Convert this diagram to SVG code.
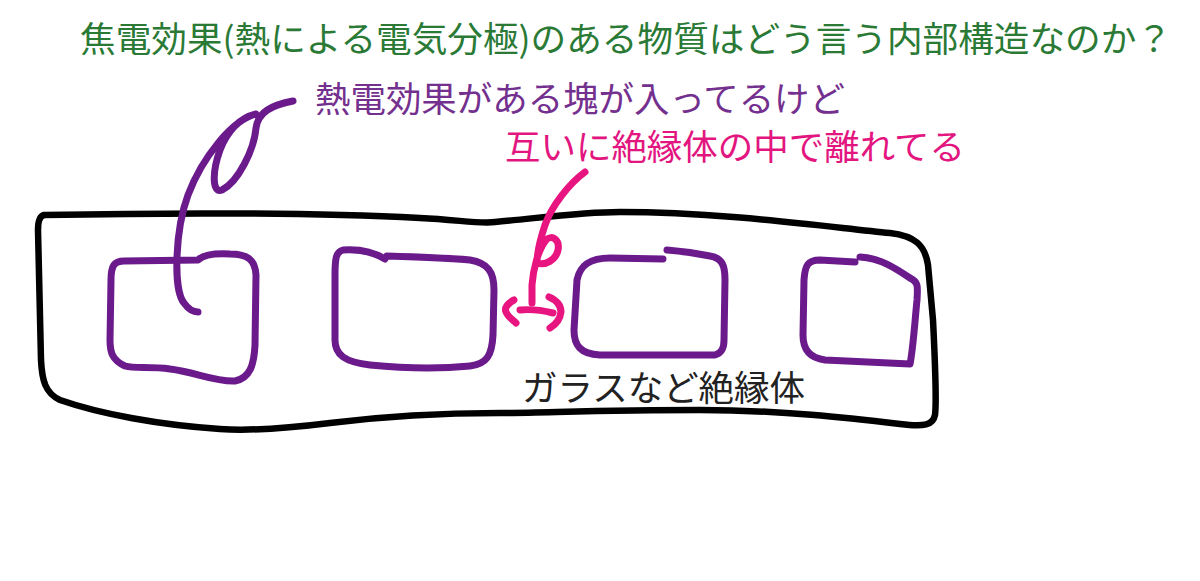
<svg xmlns="http://www.w3.org/2000/svg" width="1200" height="581" viewBox="0 0 1200 581">
<style>
text{font-family:"Noto Sans CJK JP","Noto Sans",sans-serif;font-size:35px}
.title{fill:#2a7a36}
.purpleText{fill:#74308e}
.pinkText{fill:#e3167f}
.blackText{fill:#222}
.outer{fill:none;stroke:#000;stroke-width:6.5;stroke-linecap:round;stroke-linejoin:round}
.blob{fill:none;stroke:#6b1a8c;stroke-width:7;stroke-linecap:round;stroke-linejoin:round}
.pink{fill:none;stroke:#e8147f;stroke-width:7;stroke-linecap:round;stroke-linejoin:round}
</style>
<rect width="1200" height="581" fill="#fff"/>
<g id="title"><text class="title" x="80" y="52" font-size="36" textLength="1092" lengthAdjust="spacingAndGlyphs">焦電効果(熱による電気分極)のある物質はどう言う内部構造なのか？</text></g>
<g id="insulator">
<path class="outer" d="M44,215 C150,213 300,212 420,218 C460,220 480,224 495,222 C540,218 580,212 620,212 C720,212 820,226 890,233 C915,236 925,245 928,265 L933,320 C935,360 937,400 935,415 C933,425 925,427 900,424 C850,418 780,410 700,410 C600,410 540,413 500,413 C430,413 370,418 330,423 C290,428 250,431 220,429 C160,425 100,414 60,400 C45,393 42,380 41,360 L38,230 C38,220 40,216 44,215 Z"/>
<text class="blackText" x="522" y="401" textLength="283" lengthAdjust="spacingAndGlyphs">ガラスなど絶縁体</text>
</g>
<g id="block1"><path class="blob" d="M124,261 L198,260 C202,256 212,253 230,254 C248,254 255,260 256,275 L255,345 C254,365 250,378 235,381 C215,382 195,372 170,369 C150,366 135,369 125,366 C112,360 110,352 110,340 L111,280 C111,266 114,261 124,261 Z"/></g>
<g id="block2"><path class="blob" d="M385,259 C372,251 358,249 343,250 C336,252 335,258 335,275 L335,340 C335,355 345,362 370,365 C400,368 440,369 470,366 C487,364 492,355 493,335 L494,290 C494,272 488,263 470,260 C450,258 420,257 387,256"/></g>
<g id="block3"><path class="blob" d="M663,259 L610,258 C590,258 580,265 577,280 L574,330 C574,345 580,354 600,355 L715,355 C722,353 724,348 724,340 L725,280 C725,265 722,258 710,256 C695,253 680,251 667,250"/></g>
<g id="block4"><path class="blob" d="M855,262 L820,260 C808,260 805,265 804,280 L803,335 C803,350 810,358 825,360 L910,364 C913,350 915,320 917,300 C918,285 918,282 910,278 C895,268 880,258 860,257"/></g>
<g id="label-blocks"><text class="purpleText" x="315" y="112" textLength="530" lengthAdjust="spacingAndGlyphs">熱電効果がある塊が入ってるけど</text></g>
<g id="label-separated"><text class="pinkText" x="505" y="160" textLength="460" lengthAdjust="spacingAndGlyphs">互いに絶縁体の中で離れてる</text></g>
<g id="connectors">
<path class="blob" d="M293,101 C272,105 258,112 256,128 C254,150 238,182 222,190 C212,194 212,172 220,150 C228,130 240,118 256,114 C232,120 202,158 188,195 C175,230 173,290 184,303 C189,310 194,312 198,312"/>
<path class="pink" d="M585,172 C570,183 552,205 545,225 C540,240 537,255 537,263 C545,266 556,260 558,250 C560,240 552,234 546,240 C538,250 533,270 532,285 L532,303"/>
<path class="pink" d="M520,310 C530,309 545,311 553,313"/>
<path class="pink" d="M514,300 C508,303 504,308 506,312 C508,317 513,320 516,323"/>
<path class="pink" d="M549,297 C556,300 561,305 561,312 C560,320 555,325 550,328"/>
</g>
</svg>
